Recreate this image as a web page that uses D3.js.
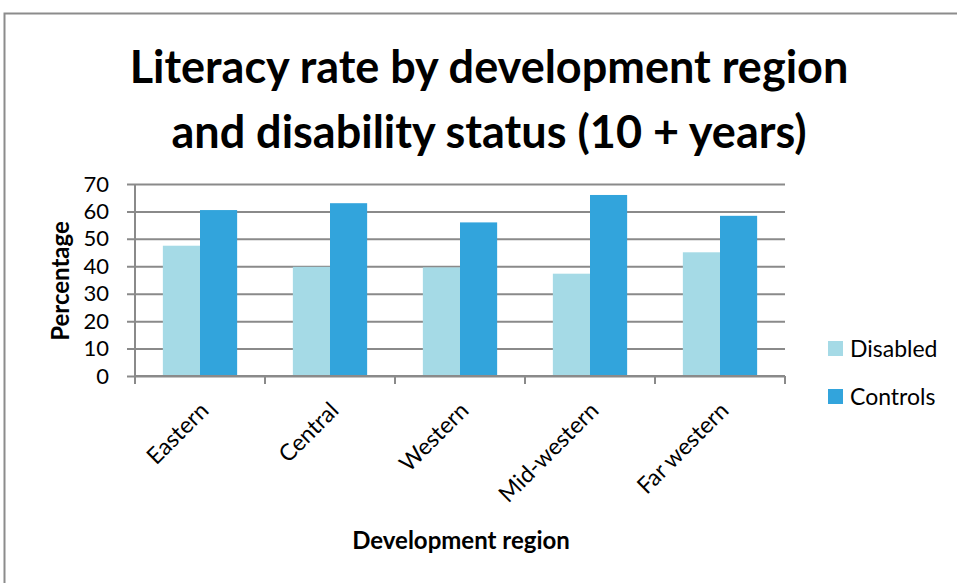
<!DOCTYPE html>
<html>
<head>
<meta charset="utf-8">
<script src="https://cdn.jsdelivr.net/npm/d3@7"></script>
<style>
  body { margin: 0; background: #fff; }
  text { font-family: Lato, "Open Sans", sans-serif; }
</style>
</head>
<body>
<div id="chart"></div>
<script>
// literacy rate
const regions = ["Eastern", "Central", "Western", "Mid-western", "Far western"];
const disabled = [47.5, 39.8, 39.6, 37.3, 45.1];
const controls = [60.5, 63.0, 56.0, 66.0, 58.4];
const series = ["Disabled", "Controls"];
const colors = ["#a5dae6", "#32a4dc"];
const yTicks = [0, 10, 20, 30, 40, 50, 60, 70];

const width = 957, height = 583,
      margin = ({top: 184, right: 172, bottom: 207, left: 135});

const svg = d3.select("#chart").append("svg")
    .attr("width", width)
    .attr("height", height);

// outer frame
svg.append("rect")
    .attr("x", 4.5).attr("y", 13.5)
    .attr("width", width + 10).attr("height", height + 10)
    .attr("fill", "none").attr("stroke", "#8c8c8c").attr("stroke-width", 2);

const x = d3.scaleBand()
    .domain(regions)
    .range([margin.left, width - margin.right]);

const xInner = d3.scaleBand()
    .domain(series)
    .range([0, x.bandwidth()])
    .paddingOuter(0.75);

const y = d3.scaleLinear()
    .domain([0, 70])
    .range([height - margin.bottom, margin.top]);

// gridlines + y ticks
svg.append("g")
    .attr("transform", `translate(${margin.left},0)`)
    .call(d3.axisLeft(y).tickValues(yTicks)
        .tickSize(-(width - margin.left - margin.right))
        .tickSizeOuter(0)
        .tickPadding(0))
    .call(g => g.selectAll(".tick line").attr("stroke", "#8a8a8a").attr("stroke-width", 2)
        .attr("x1", -8))
    .call(g => g.select(".domain").remove())
    .call(g => g.selectAll(".tick text")
        .attr("x", -26).attr("font-size", 22).attr("fill", "#000"));

// bars
const groups = svg.append("g").selectAll("g")
    .data(regions)
    .join("g")
    .attr("transform", d => `translate(${x(d)},0)`);

groups.selectAll("rect")
    .data((d, i) => [disabled[i], controls[i]].map((v, j) => ({key: series[j], value: v})))
    .join("rect")
    .attr("x", d => xInner(d.key))
    .attr("width", xInner.bandwidth())
    .attr("y", d => y(d.value))
    .attr("height", d => y(0) - y(d.value))
    .attr("fill", (d, j) => colors[j]);

// y axis line
svg.append("line")
    .attr("x1", margin.left).attr("x2", margin.left)
    .attr("y1", y(70)).attr("y2", y(0) + 8)
    .attr("stroke", "#8a8a8a").attr("stroke-width", 2);

// x axis
const xTicks = regions.map(d => x(d)).concat([x.range()[1]]);
svg.append("line")
    .attr("x1", margin.left).attr("x2", x.range()[1])
    .attr("y1", y(0)).attr("y2", y(0))
    .attr("stroke", "#8a8a8a").attr("stroke-width", 2);
svg.append("g").selectAll("line")
    .data(xTicks)
    .join("line")
    .attr("x1", d => d).attr("x2", d => d)
    .attr("y1", y(0)).attr("y2", y(0) + 8)
    .attr("stroke", "#8a8a8a").attr("stroke-width", 2);

svg.append("g").selectAll("text")
    .data(regions)
    .join("text")
    .attr("transform", d => `translate(${x(d) + x.bandwidth() / 2 + 10},${y(0) + 36}) rotate(-45)`)
    .attr("text-anchor", "end")
    .attr("font-size", 23)
    .text(d => d);

// titles
svg.append("text")
    .attr("x", 489).attr("y", 83)
    .attr("text-anchor", "middle")
    .attr("font-size", 45).attr("font-weight", "bold")
    .text("Literacy rate by development region");
svg.append("text")
    .attr("x", 489).attr("y", 148)
    .attr("text-anchor", "middle")
    .attr("font-size", 45).attr("font-weight", "bold")
    .text("and disability status (10 + years)");

svg.append("text")
    .attr("transform", `translate(69,${(y(0) + y(70)) / 2 + 1}) rotate(-90)`)
    .attr("text-anchor", "middle")
    .attr("font-size", 24).attr("font-weight", "bold")
    .text("Percentage");

svg.append("text")
    .attr("x", 461).attr("y", 549)
    .attr("text-anchor", "middle")
    .attr("font-size", 24).attr("font-weight", "bold")
    .text("Development region");

// legend
const legend = svg.append("g").selectAll("g")
    .data(series)
    .join("g")
    .attr("transform", (d, i) => `translate(828,${341 + i * 48})`);
legend.append("rect")
    .attr("width", 15).attr("height", 15)
    .attr("fill", (d, i) => colors[i]);
legend.append("text")
    .attr("x", 22).attr("y", 16)
    .attr("font-size", 23)
    .text(d => d);
</script>
</body>
</html>
